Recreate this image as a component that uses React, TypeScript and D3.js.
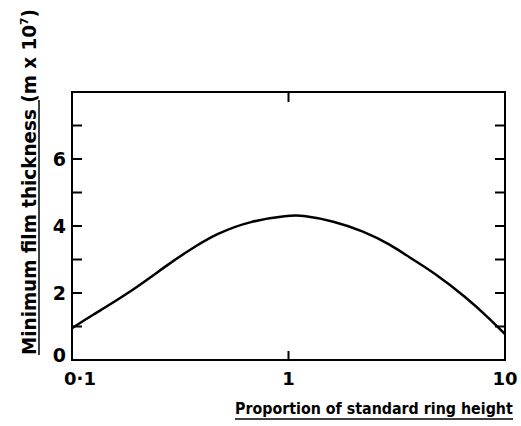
import React, { useEffect, useRef } from 'react';
import * as d3 from 'd3';

// proportion of standard ring height (log axis)
const ratio = [0.1, 0.121, 0.18, 0.284, 0.352, 0.467, 0.665, 1.0, 1.17, 1.61, 2.22, 2.95, 3.64, 4.67, 6.65, 8.53, 10];
// minimum film thickness (m x 10^-7)
const thickness = [0.95, 1.3, 1.96, 2.9, 3.3, 3.78, 4.15, 4.32, 4.32, 4.15, 3.85, 3.45, 3.05, 2.62, 1.86, 1.22, 0.77];

const yTicks = [1, 2, 3, 4, 5, 6, 7];
const yLabels = [0, 2, 4, 6];
const xLabels = [
    { v: 0.1, text: '0·1' },
    { v: 1, text: '1' },
    { v: 10, text: '10' },
];

const App = () => {
    const ref = useRef<SVGSVGElement>(null);

    useEffect(() => {
        const svg = d3.select(ref.current);
        svg.selectAll('*').remove();

        const left = 72, right = 505, top = 92, bottom = 360;
        const font = 'DejaVu Sans, sans-serif';

        const x = d3.scaleLog().domain([0.1, 10]).range([left, right]);
        const y = d3.scaleLinear().domain([0, 8]).range([bottom, top]);

        // frame
        svg.append('rect')
            .attr('x', left).attr('y', top)
            .attr('width', right - left).attr('height', bottom - top)
            .attr('fill', 'none').attr('stroke', '#000').attr('stroke-width', 2);

        // inward ticks, left and right
        svg.selectAll('.ytl').data(yTicks).enter().append('line')
            .attr('x1', left).attr('x2', left + 10)
            .attr('y1', d => y(d)).attr('y2', d => y(d))
            .attr('stroke', '#000').attr('stroke-width', 2);
        svg.selectAll('.ytr').data(yTicks).enter().append('line')
            .attr('x1', right).attr('x2', right - 10)
            .attr('y1', d => y(d)).attr('y2', d => y(d))
            .attr('stroke', '#000').attr('stroke-width', 2);

        // x tick at 1, top and bottom
        svg.append('line').attr('x1', x(1)).attr('x2', x(1))
            .attr('y1', top).attr('y2', top + 10)
            .attr('stroke', '#000').attr('stroke-width', 2);
        svg.append('line').attr('x1', x(1)).attr('x2', x(1))
            .attr('y1', bottom).attr('y2', bottom - 9)
            .attr('stroke', '#000').attr('stroke-width', 2);

        // y labels
        svg.selectAll('.yl').data(yLabels).enter().append('text')
            .attr('x', left - 6)
            .attr('y', d => y(d) + (d === 0 ? 2 : 7))
            .attr('text-anchor', 'end')
            .style('font-family', font).style('font-size', '19px').style('font-weight', 'bold')
            .text(d => d);

        // x labels
        svg.selectAll('.xl').data(xLabels).enter().append('text')
            .attr('x', d => x(d.v) + (d.v === 0.1 ? 8 : 0))
            .attr('y', bottom + 25)
            .attr('text-anchor', 'middle')
            .style('font-family', font).style('font-size', '18px').style('font-weight', 'bold')
            .text(d => d.text);

        // curve
        const line = d3.line<number>()
            .x((d, i) => x(ratio[i]))
            .y(d => y(d))
            .curve(d3.curveBasis);
        svg.append('path')
            .attr('d', line(thickness))
            .attr('fill', 'none').attr('stroke', '#000').attr('stroke-width', 2.5);

        // x title, squeezed to the reference width
        const xt = svg.append('text')
            .style('font-family', font).style('font-size', '16px').style('font-weight', 'bold')
            .text('Proportion of standard ring height');
        const xw = (xt.node() as SVGTextElement).getComputedTextLength();
        xt.attr('transform', `translate(235,414) scale(${278 / xw},1)`);
        svg.append('line').attr('x1', 235).attr('x2', 513)
            .attr('y1', 419).attr('y2', 419)
            .attr('stroke', '#000').attr('stroke-width', 1.5);

        // y title
        const yt = svg.append('text')
            .style('font-family', font).style('font-size', '19px').style('font-weight', 'bold');
        yt.append('tspan').text('Minimum film thickness (m x 10');
        yt.append('tspan').attr('dy', -8).style('font-size', '11px').text('7');
        yt.append('tspan').attr('dy', 8).text(')');
        const yw = (yt.node() as SVGTextElement).getComputedTextLength();
        yt.attr('transform', `translate(36,355) rotate(-90) scale(${346 / yw},1)`);
        svg.append('line').attr('x1', 39).attr('x2', 39)
            .attr('y1', 355).attr('y2', 100)
            .attr('stroke', '#000').attr('stroke-width', 1.5);
    }, []);

    return (
        <svg ref={ref} width={521} height={426}
            style={{ position: 'absolute', left: 0, top: 0, background: '#fff' }} />
    );
};

export default App;
